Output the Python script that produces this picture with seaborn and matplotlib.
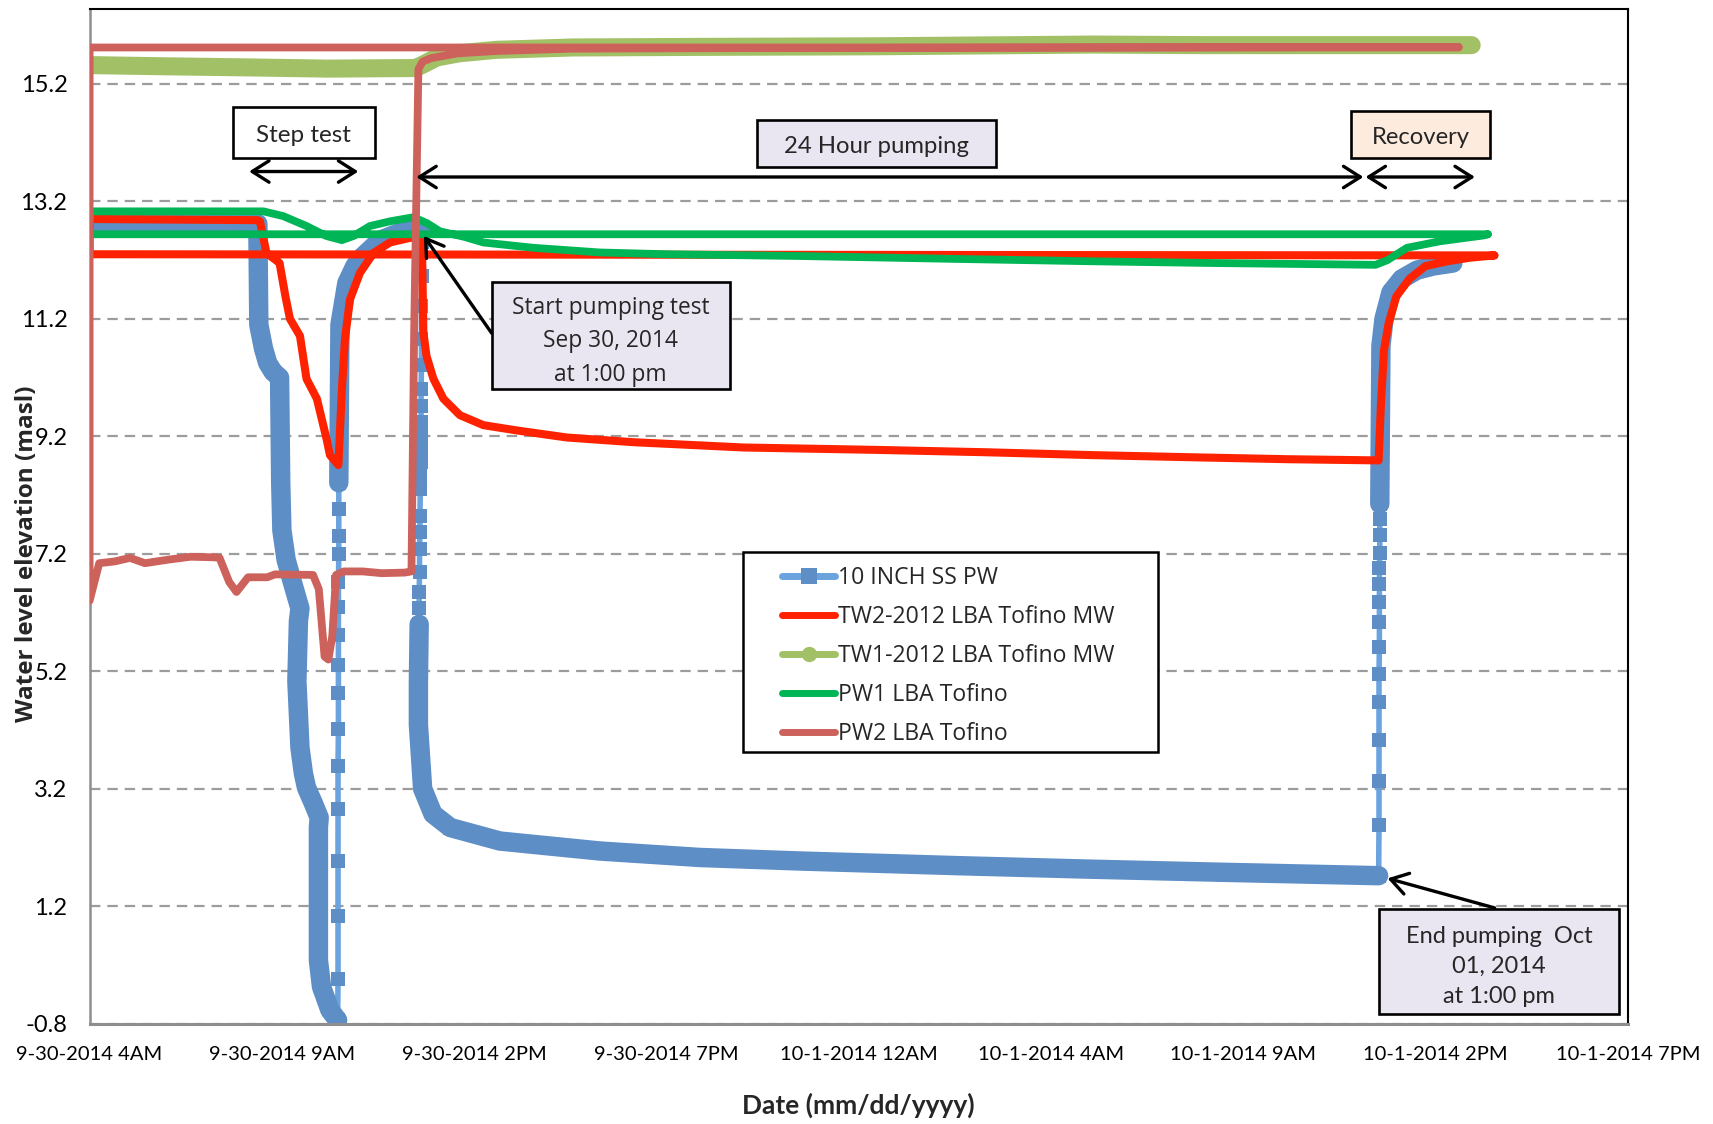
import matplotlib
matplotlib.use("Agg")
import matplotlib.pyplot as plt
import numpy as np
import pandas as pd
import seaborn as sns
from matplotlib.lines import Line2D
from matplotlib.patches import Rectangle, FancyArrowPatch

# ---------------------------------------------------------------------------
# Time axis: hours elapsed since 9-30-2014 4:00 AM
# ---------------------------------------------------------------------------
tick_hours = [0, 5, 10, 15, 20, 25, 30, 35, 40]
tick_labels = ["9-30-2014 4AM", "9-30-2014 9AM", "9-30-2014 2PM", "9-30-2014 7PM",
               "10-1-2014 12AM", "10-1-2014 4AM", "10-1-2014 9AM", "10-1-2014 2PM",
               "10-1-2014 7PM"]
level_ticks = [-0.8, 1.2, 3.2, 5.2, 7.2, 9.2, 11.2, 13.2, 15.2]

series_names = ["10 INCH SS PW", "TW2-2012 LBA Tofino MW", "TW1-2012 LBA Tofino MW",
                "PW1 LBA Tofino", "PW2 LBA Tofino"]

# 10 INCH SS PW (pumping well) - logger bursts are flagged as dense readings
pw10_hours = [0.00, 4.375, 4.40, 4.52, 4.63, 4.77, 4.94, 4.97, 5.00, 5.11, 5.28, 5.47,
              5.43, 5.39, 5.47, 5.56, 5.64, 5.82, 5.97, 5.95, 5.95, 6.03, 6.25, 6.45,
              6.46, 6.46, 6.46, 6.46, 6.46, 6.47, 6.47, 6.47, 6.47, 6.47, 6.47, 6.48, 6.48, 6.48,
              6.48, 6.51, 6.69, 6.90, 7.10, 7.56, 8.15, 8.64,
              8.64, 8.64, 8.63, 8.63, 8.63, 8.62, 8.62, 8.62, 8.61, 8.61, 8.61, 8.60, 8.60,
              8.59, 8.59, 8.58, 8.58, 8.57, 8.57,
              8.57, 8.55, 8.55, 8.66, 8.93, 9.38, 10.67, 13.27, 15.87, 18.47, 21.07, 22.61,
              26.08, 29.32, 33.52,
              33.53, 33.53, 33.53, 33.53, 33.53, 33.54, 33.54, 33.54, 33.54, 33.54, 33.55,
              33.55, 33.55,
              33.55, 33.58, 33.66, 33.84, 34.12, 34.52, 34.94, 35.45]
pw10_level = [12.86, 12.82, 11.10, 10.70, 10.45, 10.30, 10.20, 8.40, 7.60, 7.10, 6.70, 6.27,
              6.05, 5.03, 3.90, 3.46, 3.22, 2.95, 2.71, 2.54, 0.28, -0.17, -0.57, -0.74,
              -0.04, 1.04, 1.97, 2.85, 3.58, 4.21, 4.83, 5.31, 5.82, 6.30, 6.72, 7.20, 7.51, 7.96,
              8.41, 11.10, 11.81, 12.10, 12.26, 12.54, 12.69, 12.74,
              12.50, 11.93, 11.42, 10.86, 10.41, 10.00, 9.72, 9.44, 9.21, 8.99, 8.76, 8.54, 8.31,
              7.85, 7.57, 7.28, 6.89, 6.55, 6.27,
              6.00, 5.02, 4.29, 3.20, 2.77, 2.54, 2.31, 2.14, 2.03, 1.97, 1.92, 1.89,
              1.83, 1.78, 1.72,
              2.58, 3.34, 4.03, 4.67, 5.16, 5.62, 6.04, 6.38, 6.68, 6.95, 7.22, 7.52, 7.79,
              8.05, 10.74, 11.20, 11.65, 11.88, 12.03, 12.10, 12.15]
pw10_dense = ([True] * 24 + [False] * 14 + [True] * 8 + [False] * 19 + [True] * 15
              + [False] * 13 + [True] * 8)

# TW2-2012 monitoring well
tw2_hours = [36.53, 0.00, 0.00, 4.375, 4.43, 4.60, 4.94, 5.09, 5.21, 5.47, 5.64, 5.91,
             6.16, 6.25, 6.47, 6.56, 6.64, 6.77, 7.03, 7.38, 7.81, 8.34, 8.64, 8.68, 8.76,
             8.94, 9.20, 9.63, 10.24, 11.11, 12.41, 14.14, 17.00, 20.40, 23.24, 26.08, 28.92,
             31.19, 33.52, 33.58, 33.66, 33.78, 33.98, 34.32, 34.74, 35.31, 35.88, 36.53]
tw2_level = [12.28, 12.30, 12.90, 12.88, 12.86, 12.32, 12.15, 11.59, 11.20, 10.91, 10.18,
             9.84, 9.16, 8.88, 8.71, 10.00, 10.85, 11.53, 11.98, 12.32, 12.50, 12.58, 12.58,
             10.97, 10.57, 10.18, 9.84, 9.56, 9.39, 9.30, 9.18, 9.10, 9.01, 8.97, 8.93, 8.88,
             8.84, 8.81, 8.79, 9.75, 10.67, 11.12, 11.58, 11.88, 12.10, 12.18, 12.24, 12.28]

# TW1-2012 monitoring well
tw1_hours = [0.00, 1.93, 4.20, 6.19, 8.47, 8.64, 9.03, 9.60, 10.57, 12.56, 15.85, 20.40,
             26.08, 28.92, 31.76, 35.94]
tw1_level = [15.52, 15.50, 15.48, 15.46, 15.47, 15.52, 15.65, 15.72, 15.78, 15.82, 15.83,
             15.84, 15.87, 15.86, 15.86, 15.86]

# PW1 production well
pw1_hours = [36.36, 0.00, 0.00, 4.52, 5.03, 5.64, 6.16, 6.56, 6.86, 7.29, 7.81, 8.42, 8.77,
             9.11, 9.72, 10.24, 11.53, 13.27, 15.00, 18.47, 22.56, 26.08, 29.26, 33.44,
             33.75, 34.26, 35.11, 36.25, 36.36]
pw1_level = [12.64, 12.64, 13.03, 13.03, 12.95, 12.78, 12.61, 12.54, 12.61, 12.78, 12.86,
             12.93, 12.83, 12.69, 12.60, 12.50, 12.41, 12.33, 12.30, 12.27, 12.22, 12.18,
             12.15, 12.12, 12.20, 12.41, 12.52, 12.62, 12.64]

# PW2 production well
pw2_hours = [35.60, 0.00, 0.00, 0.25, 0.65, 1.05, 1.44, 2.04, 2.63, 3.23, 3.38, 3.63, 3.82,
             4.12, 4.62, 4.82, 5.81, 5.96, 6.11, 6.21, 6.31, 6.41, 6.61, 7.10, 7.60, 8.19,
             8.37, 8.44, 8.55, 8.66, 8.89, 9.57, 10.57, 12.56, 17.56, 26.08, 35.60]
pw2_level = [15.82, 15.82, 6.40, 7.04, 7.07, 7.13, 7.04, 7.10, 7.15, 7.14, 7.13, 6.72, 6.55,
             6.80, 6.80, 6.85, 6.84, 6.60, 5.45, 5.40, 5.80, 6.84, 6.90, 6.90, 6.87, 6.88,
             6.90, 11.00, 15.45, 15.58, 15.64, 15.72, 15.76, 15.80, 15.81, 15.82, 15.83]

# ---------------------------------------------------------------------------
# Styling
# ---------------------------------------------------------------------------
sns.set_style("white")
plt.rcParams["font.family"] = ["Lato", "DejaVu Sans"]
plt.rcParams["lines.scale_dashes"] = False

BLUE_LINE = "#6AA3DE"
BLUE_MARK = "#5E8EC6"
RED = "#FF2200"
OLIVE = "#A2C166"
GREEN = "#00B555"
BRICK = "#CC625B"
LAVENDER = "#EAE6F1"
PEACH = "#FDEBDE"
GRID = "#9C9C9C"
AXIS = "#8E8E8E"
SEGOE = ["Open Sans", "DejaVu Sans"]

fig = plt.figure(figsize=(17.13, 11.24), dpi=100)
ax = fig.add_axes([0.05231, 0.08923, 0.89796, 0.90302])

# ---------------------------------------------------------------------------
# Series (drawn bottom to top)
# ---------------------------------------------------------------------------
pw10 = pd.DataFrame({"hour": pw10_hours, "level": pw10_level, "dense": pw10_dense})
pw10["burst"] = (pw10["dense"] != pw10["dense"].shift()).cumsum()

sns.lineplot(data=pw10, x="hour", y="level", sort=False, estimator=None, ax=ax,
             color=BLUE_LINE, lw=4.0, marker="s", markersize=10, markeredgewidth=0,
             markerfacecolor=BLUE_MARK, zorder=2)
for _, burst in pw10[pw10["dense"]].groupby("burst"):
    sns.lineplot(data=burst, x="hour", y="level", sort=False, estimator=None, ax=ax,
                 color=BLUE_MARK, lw=14, solid_capstyle="round",
                 solid_joinstyle="round", zorder=2.1)

tw2 = pd.DataFrame({"hour": tw2_hours, "level": tw2_level})
sns.lineplot(data=tw2, x="hour", y="level", sort=False, estimator=None, ax=ax,
             color=RED, lw=5.8, solid_joinstyle="round", solid_capstyle="round", zorder=3)

tw1 = pd.DataFrame({"hour": tw1_hours, "level": tw1_level})
sns.lineplot(data=tw1, x="hour", y="level", sort=False, estimator=None, ax=ax,
             color=OLIVE, lw=13, solid_capstyle="round", solid_joinstyle="round", zorder=4)

pw1 = pd.DataFrame({"hour": pw1_hours, "level": pw1_level})
sns.lineplot(data=pw1, x="hour", y="level", sort=False, estimator=None, ax=ax,
             color=GREEN, lw=5.6, solid_capstyle="round", solid_joinstyle="round", zorder=5)

pw2 = pd.DataFrame({"hour": pw2_hours, "level": pw2_level})
sns.lineplot(data=pw2, x="hour", y="level", sort=False, estimator=None, ax=ax,
             color=BRICK, lw=5.6, solid_capstyle="round", solid_joinstyle="round", zorder=6)

# ---------------------------------------------------------------------------
# Axes
# ---------------------------------------------------------------------------
ax.set_xlim(0, 40)
ax.set_ylim(-0.8, 16.48)
ax.set_xticks(tick_hours)
ax.set_xticklabels(tick_labels)
ax.set_yticks(level_ticks)
ax.set_yticklabels([f"{v:.1f}" for v in level_ticks])
ax.yaxis.grid(True, color=GRID, lw=1.6, ls=(0, (7.5, 5.0)))
ax.xaxis.grid(False)
ax.set_axisbelow(True)

ax.tick_params(axis="x", direction="out", length=7, width=1.6, color=AXIS,
               labelsize=14.5, pad=9, labelcolor="black")
ax.tick_params(axis="y", length=0, labelsize=17, pad=16, labelcolor="black")

for side in ("top", "right"):
    ax.spines[side].set_color("black")
    ax.spines[side].set_linewidth(1.5)
ax.spines["left"].set_color(AXIS)
ax.spines["left"].set_linewidth(1.8)
ax.spines["bottom"].set_color(AXIS)
ax.spines["bottom"].set_linewidth(2.2)

ax.set_xlabel("Date (mm/dd/yyyy)", fontsize=19, fontweight="bold", va="center")
ax.set_ylabel("Water level elevation (masl)", fontsize=17.5, fontweight="bold",
              family=SEGOE, va="center")
ax.xaxis.set_label_coords(0.5, -0.0807)
ax.yaxis.set_label_coords(-0.0407, 0.4628)

# ---------------------------------------------------------------------------
# Legend
# ---------------------------------------------------------------------------
ax.add_patch(Rectangle((0.4247, 0.2680), 0.2699, 0.1970, transform=ax.transAxes,
                       facecolor="white", edgecolor="black", lw=1.8, zorder=9))
handles = [
    Line2D([], [], color=BLUE_LINE, lw=5, marker="s", markersize=11,
           markerfacecolor=BLUE_MARK, markeredgewidth=0),
    Line2D([], [], color=RED, lw=5, solid_capstyle="round"),
    Line2D([], [], color=OLIVE, lw=5, marker="o", markersize=11,
           markerfacecolor=OLIVE, markeredgewidth=0),
    Line2D([], [], color=GREEN, lw=5, solid_capstyle="round"),
    Line2D([], [], color=BRICK, lw=5, solid_capstyle="round"),
]
leg = ax.legend(handles, series_names, loc="upper left", bbox_to_anchor=(0.4503, 0.4510),
                frameon=False, handlelength=2.3, handletextpad=0.1, labelspacing=0.655,
                borderpad=0, borderaxespad=0, prop={"family": SEGOE, "size": 16.6})
leg.set_zorder(10)

# ---------------------------------------------------------------------------
# Annotations
# ---------------------------------------------------------------------------
def label_box(x0, y0, x1, y1, text, face, size, family=None, linespacing=1.2, dy=-0.003):
    ax.add_patch(Rectangle((x0, y0), x1 - x0, y1 - y0, transform=ax.transAxes,
                           facecolor=face, edgecolor="black", lw=1.9, zorder=9))
    ax.text((x0 + x1) / 2, (y0 + y1) / 2 + dy, text, transform=ax.transAxes,
            ha="center", va="center", fontsize=size, family=family,
            linespacing=linespacing, zorder=10)


def arrow(xy_from, xy_to, style):
    ax.add_patch(FancyArrowPatch(xy_from, xy_to, transform=ax.transAxes,
                                 arrowstyle=style, mutation_scale=22, lw=2.4,
                                 color="black", shrinkA=0, shrinkB=0, zorder=11))


label_box(0.0930, 0.8525, 0.1854, 0.9031, "Step test", "white", 17.5)
label_box(0.4339, 0.8439, 0.5895, 0.8902, "24 Hour pumping", LAVENDER, 17.2)
label_box(0.8203, 0.8525, 0.9105, 0.8988, "Recovery", PEACH, 17.2)
label_box(0.2614, 0.6254, 0.4162, 0.7309, "Start pumping test\nSep 30, 2014\nat 1:00 pm",
          LAVENDER, 16.4, family=SEGOE, linespacing=1.55, dy=-0.006)
label_box(0.8381, 0.0097, 0.9943, 0.1130, "End pumping  Oct\n01, 2014\nat 1:00 pm",
          LAVENDER, 17, linespacing=1.55, dy=-0.005)

dbl = "<->,head_length=0.55,head_width=0.35"
one = "->,head_length=0.55,head_width=0.35"
arrow((0.1037, 0.8396), (0.1747, 0.8396), dbl)
arrow((0.2124, 0.8342), (0.8281, 0.8342), dbl)
arrow((0.8295, 0.8342), (0.9006, 0.8342), dbl)
arrow((0.2614, 0.6803), (0.2173, 0.7761), one)
arrow((0.9134, 0.1141), (0.8438, 0.1432), one)

fig.savefig("out.png", dpi=100)
